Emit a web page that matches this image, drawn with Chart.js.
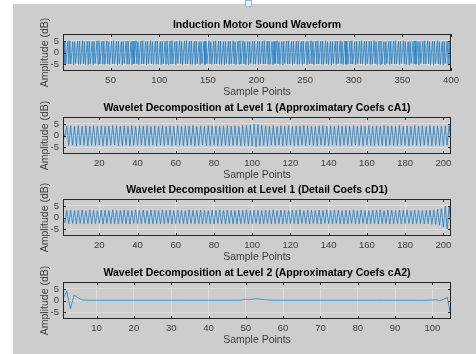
<!DOCTYPE html>
<html>
<head>
<meta charset="utf-8">
<script src="https://cdn.jsdelivr.net/npm/chart.js@4.4.1/dist/chart.umd.min.js"></script>
<style>
  html, body { margin: 0; padding: 0; background: #fff; width: 476px; height: 354px; overflow: hidden; }
  #fig { position: absolute; left: 13px; top: 4px; width: 463px; height: 350px; background: #cdcdcd; overflow: hidden; }
  #fig canvas { position: absolute; left: 0; }
  #dock { position: absolute; left: 245px; top: 0; width: 5px; height: 5px; border: 1px solid #8fb8e0; background: #e8f1fa; }
</style>
</head>
<body>
<div id="fig">
  <canvas id="wave" width="463" height="97" style="top:0px"></canvas>
  <canvas id="approx1" width="463" height="97" style="top:83px"></canvas>
  <canvas id="detail1" width="463" height="97" style="top:165px"></canvas>
  <canvas id="approx2" width="463" height="97" style="top:248px"></canvas>
</div>
<div id="dock"></div>
<script>
// values
var motorSound = [
    4.8, -5.2, 4.9, -4.9, 0.1, 5.0, -5.0, 5.1, -5.0, -0.1, 4.7, -5.3, 4.8, -4.8, 0.3, 4.9, -5.1, 5.0, -5.1, -0.3,
    5.1, -4.9, 4.7, -5.2, 0.2, 4.8, -5.2, 4.9, -4.9, 0.1, 4.7, -5.3, 4.8, -4.8, 0.3, 5.0, -5.0, 5.1, -5.0, -0.1,
    4.9, -5.1, 5.0, -5.1, -0.3, 5.1, -4.9, 4.7, -5.2, 0.2, 5.0, -5.0, 5.1, -5.0, -0.1, 4.8, -5.2, 4.9, -4.9, 0.1,
    4.7, -5.3, 4.8, -4.8, 0.3, 4.9, -5.1, 5.0, -5.1, -0.3, 4.8, -5.2, 4.9, -4.9, 0.1, 5.1, -4.9, 4.7, -5.2, 0.2,
    5.0, -5.0, 5.1, -5.0, -0.1, 4.7, -5.3, 4.8, -4.8, 0.3, 5.1, -4.9, 4.7, -5.2, 0.2, 4.9, -5.1, 5.0, -5.1, -0.3,
    4.8, -5.2, 4.9, -4.9, 0.1, 4.9, -5.1, 5.0, -5.1, -0.3, 5.0, -5.0, 5.1, -5.0, -0.1, 4.7, -5.3, 4.8, -4.8, 0.3,
    5.1, -4.9, 4.7, -5.2, 0.2, 5.0, -5.0, 5.1, -5.0, -0.1, 4.9, -5.1, 5.0, -5.1, -0.3, 4.8, -5.2, 4.9, -4.9, 0.1,
    4.7, -5.3, 4.8, -4.8, 0.3, 4.8, -5.2, 4.9, -4.9, 0.1, 5.1, -4.9, 4.7, -5.2, 0.2, 5.0, -5.0, 5.1, -5.0, -0.1,
    4.9, -5.1, 5.0, -5.1, -0.3, 4.7, -5.3, 4.8, -4.8, 0.3, 4.8, -5.2, 4.9, -4.9, 0.1, 5.1, -4.9, 4.7, -5.2, 0.2,
    5.0, -5.0, 5.1, -5.0, -0.1, 5.1, -4.9, 4.7, -5.2, 0.2, 4.7, -5.3, 4.8, -4.8, 0.3, 4.9, -5.1, 5.0, -5.1, -0.3,
    4.8, -5.2, 4.9, -4.9, 0.1, 5.0, -5.0, 5.1, -5.0, -0.1, 4.9, -5.1, 5.0, -5.1, -0.3, 4.7, -5.3, 4.8, -4.8, 0.3,
    5.1, -4.9, 4.7, -5.2, 0.2, 4.7, -5.3, 4.8, -4.8, 0.3, 5.0, -5.0, 5.1, -5.0, -0.1, 4.8, -5.2, 4.9, -4.9, 0.1,
    4.9, -5.1, 5.0, -5.1, -0.3, 4.8, -5.2, 4.9, -4.9, 0.1, 4.7, -5.3, 4.8, -4.8, 0.3, 5.1, -4.9, 4.7, -5.2, 0.2,
    5.0, -5.0, 5.1, -5.0, -0.1, 4.9, -5.1, 5.0, -5.1, -0.3, 5.1, -4.9, 4.7, -5.2, 0.2, 4.7, -5.3, 4.8, -4.8, 0.3,
    4.8, -5.2, 4.9, -4.9, 0.1, 5.1, -4.9, 4.7, -5.2, 0.2, 4.9, -5.1, 5.0, -5.1, -0.3, 5.0, -5.0, 5.1, -5.0, -0.1,
    4.7, -5.3, 4.8, -4.8, 0.3, 5.0, -5.0, 5.1, -5.0, -0.1, 4.8, -5.2, 4.9, -4.9, 0.1, 4.9, -5.1, 5.0, -5.1, -0.3,
    5.1, -4.9, 4.7, -5.2, 0.2, 4.9, -5.1, 5.0, -5.1, -0.3, 4.7, -5.3, 4.8, -4.8, 0.3, 4.8, -5.2, 4.9, -4.9, 0.1,
    5.0, -5.0, 5.1, -5.0, -0.1, 4.8, -5.2, 4.9, -4.9, 0.1, 5.1, -4.9, 4.7, -5.2, 0.2, 4.7, -5.3, 4.8, -4.8, 0.3,
    4.9, -5.1, 5.0, -5.1, -0.3, 4.7, -5.3, 4.8, -4.8, 0.3, 5.0, -5.0, 5.1, -5.0, -0.1, 5.1, -4.9, 4.7, -5.2, 0.2,
    4.8, -5.2, 4.9, -4.9, 0.1, 5.1, -4.9, 4.7, -5.2, 0.2, 4.7, -5.3, 4.8, -4.8, 0.3, 4.9, -5.1, 5.0, -5.1, -0.8
];

var cA1 = [
    1.8, -0.8, 4.1, -4.3, 4.2, -4.2, 4.0, -4.4, 4.3, -4.1,
    4.1, -4.3, 4.2, -4.4, 4.0, -4.2, 4.3, -4.3, 4.1, -4.2,
    4.2, -4.4, 4.0, -4.3, 4.1, -4.2, 4.3, -4.1, 4.2, -4.4,
    4.0, -4.3, 4.2, -4.2, 4.1, -4.4, 4.3, -4.2, 4.0, -4.3,
    4.2, -4.1, 4.1, -4.4, 4.3, -4.3, 4.0, -4.2, 4.2, -4.4,
    4.1, -4.2, 4.3, -4.3, 4.0, -4.1, 4.2, -4.4, 4.1, -4.3,
    4.3, -4.2, 4.0, -4.4, 4.2, -4.3, 4.1, -4.2, 4.3, -4.4,
    4.0, -4.3, 4.2, -4.1, 4.1, -4.4, 4.3, -4.3, 4.2, -4.2,
    4.1, -4.4, 4.0, -4.3, 4.2, -4.2, 4.3, -4.4, 4.1, -4.3,
    4.2, -4.2, 4.0, -4.4, 4.3, -4.3, 4.4, -4.5, 4.6, -4.6,
    5.0, -4.8, 4.7, -4.5, 4.4, -4.3, 4.2, -4.4, 4.1, -4.2,
    4.3, -4.3, 4.0, -4.2, 4.2, -4.4, 4.1, -4.3, 4.3, -4.2,
    4.0, -4.4, 4.2, -4.3, 4.1, -4.2, 4.3, -4.4, 4.2, -4.1,
    4.1, -4.3, 4.0, -4.4, 4.2, -4.2, 4.3, -4.3, 4.1, -4.4,
    4.2, -4.2, 4.0, -4.3, 4.3, -4.4, 4.1, -4.2, 4.2, -4.3,
    4.0, -4.4, 4.3, -4.1, 4.1, -4.3, 4.2, -4.4, 4.0, -4.2,
    4.3, -4.3, 4.1, -4.4, 4.2, -4.2, 4.0, -4.3, 4.3, -4.4,
    4.1, -4.2, 4.2, -4.3, 4.0, -4.4, 4.3, -4.2, 4.1, -4.3,
    4.2, -4.4, 4.0, -4.2, 4.3, -4.3, 4.1, -4.4, 4.2, -4.2,
    4.0, -4.3, 4.3, -4.4, 4.1, -4.2, 4.2, -4.3, 4.1, -4.4,
    4.2, -4.2, 4.3, -3.5
];

var cD1 = [
    -0.5, -2.2, 3.1, -2.7, 3.2, -2.6, 3.0, -2.8, 3.1, -2.6,
    3.2, -2.7, 3.0, -2.6, 3.3, -2.8, 3.1, -2.7, 3.0, -2.6,
    3.2, -2.8, 3.1, -2.6, 3.0, -2.7, 3.3, -2.7, 3.1, -2.8,
    3.0, -2.6, 3.2, -2.7, 3.1, -2.8, 3.0, -2.6, 3.3, -2.7,
    3.1, -2.7, 3.2, -2.6, 3.0, -2.8, 3.2, -2.7, 3.1, -2.6,
    3.0, -2.8, 3.3, -2.7, 3.1, -2.6, 3.2, -2.8, 3.0, -2.7,
    3.2, -2.6, 3.1, -2.7, 3.0, -2.8, 3.3, -2.6, 3.1, -2.7,
    3.0, -2.7, 3.2, -2.8, 3.1, -2.6, 3.0, -2.7, 3.2, -2.8,
    3.1, -2.6, 3.3, -2.7, 3.0, -2.8, 3.2, -2.6, 3.1, -2.7,
    3.0, -2.8, 3.2, -2.7, 3.1, -2.6, 3.3, -2.8, 3.0, -2.7,
    3.2, -2.6, 3.1, -2.8, 3.0, -2.7, 3.2, -2.6, 3.1, -2.8,
    3.3, -2.7, 3.0, -2.6, 3.2, -2.8, 3.1, -2.7, 3.0, -2.6,
    3.2, -2.7, 3.1, -2.8, 3.3, -2.6, 3.0, -2.7, 3.2, -2.8,
    3.1, -2.6, 3.0, -2.7, 3.2, -2.8, 3.1, -2.6, 3.3, -2.7,
    3.0, -2.8, 3.2, -2.6, 3.1, -2.7, 3.0, -2.8, 3.2, -2.7,
    3.1, -2.6, 3.3, -2.8, 3.0, -2.7, 3.2, -2.6, 3.1, -2.8,
    3.0, -2.7, 3.2, -2.6, 3.1, -2.8, 3.3, -2.7, 3.0, -2.6,
    3.2, -2.8, 3.1, -2.7, 3.0, -2.6, 3.2, -2.8, 3.1, -2.7,
    3.3, -2.6, 3.0, -2.8, 3.2, -2.7, 3.1, -2.6, 3.0, -2.8,
    3.1, -2.7, 3.2, -2.9, 3.3, -3.0, 3.5, -3.4, 3.9, -4.2,
    5.0, -5.0, 4.8, -4.3
];

var cA2 = [
    0.7, 4.0, -3.5, 2.3, 1.2, 0.3, 0.1, 0.1, 0.1, 0.1,
    0.1, 0.1, 0.1, 0.1, 0.1, 0.1, 0.1, 0.1, 0.1, 0.1,
    0.1, 0.1, 0.1, 0.1, 0.1, 0.1, 0.1, 0.1, 0.1, 0.1,
    0.1, 0.1, 0.1, 0.1, 0.1, 0.1, 0.1, 0.1, 0.1, 0.1,
    0.1, 0.1, 0.1, 0.1, 0.1, 0.1, 0.1, 0.1, 0.2, 0.5,
    0.3, 0.6, 0.7, 0.5, 0.3, 0.2, 0.1, 0.1, 0.1, 0.1,
    0.1, 0.1, 0.1, 0.1, 0.1, 0.1, 0.1, 0.1, 0.1, 0.1,
    0.1, 0.1, 0.1, 0.1, 0.1, 0.1, 0.1, 0.1, 0.1, 0.1,
    0.1, 0.1, 0.1, 0.1, 0.1, 0.1, 0.1, 0.1, 0.1, 0.1,
    0.1, 0.1, 0.1, 0.1, 0.1, 0.1, 0.1, 0.1, 0.1, 0.2,
    0.3, -0.1, 0.5, 1.4, -6.8
];

var waveTicks = [50, 100, 150, 200, 250, 300, 350, 400];
var level1Ticks = [20, 40, 60, 80, 100, 120, 140, 160, 180, 200];
var level2Ticks = [10, 20, 30, 40, 50, 60, 70, 80, 90, 100];
var ampTicks = [-5, 0, 5];

var titles = [
    "Induction Motor Sound Waveform",
    "Wavelet Decomposition at Level 1 (Approximatary Coefs cA1)",
    "Wavelet Decomposition at Level 1 (Detail Coefs cD1)",
    "Wavelet Decomposition at Level 2 (Approximatary Coefs cA2)"
];

var lineColour = "#1a7fc9";
var axisColour = "#262626";
var gridColour = "#dcdcdc";

Chart.defaults.font.family = '"Liberation Sans", Arial, Helvetica, sans-serif';

// matlab style box with inward ticks
var frame = {
    id: "frame",
    afterDatasetsDraw: function (chart) {
        var ctx = chart.ctx, a = chart.chartArea, sx = chart.scales.x, sy = chart.scales.y;
        ctx.save();
        ctx.strokeStyle = axisColour;
        ctx.lineWidth = 1;
        ctx.beginPath();
        sx.ticks.forEach(function (t) {
            var px = Math.round(sx.getPixelForValue(t.value)) + 0.5;
            ctx.moveTo(px, a.bottom); ctx.lineTo(px, a.bottom - 3);
            ctx.moveTo(px, a.top); ctx.lineTo(px, a.top + 3);
        });
        sy.ticks.forEach(function (t) {
            var py = Math.round(sy.getPixelForValue(t.value)) + 0.5;
            ctx.moveTo(a.left, py); ctx.lineTo(a.left + 3, py);
            ctx.moveTo(a.right, py); ctx.lineTo(a.right - 3, py);
        });
        ctx.stroke();
        ctx.strokeRect(Math.round(a.left) + 0.5, Math.round(a.top) + 0.5,
            Math.round(a.right - a.left) - 1, Math.round(a.bottom - a.top) - 1);
        ctx.restore();
    }
};

function panel(id, title, values, xTicks) {
    var points = values.map(function (v, i) { return {x: i + 1, y: v}; });

    return new Chart(document.getElementById(id).getContext("2d"), {
        type: "line",
        data: {
            datasets: [{
                data: points,
                borderColor: lineColour,
                borderWidth: 0.8,
                pointRadius: 0,
                tension: 0,
                fill: false
            }]
        },
        options: {
            responsive: false,
            animation: false,
            devicePixelRatio: 1,
            layout: { padding: { top: 15, left: 0, right: 25, bottom: 0 } },
            plugins: {
                legend: { display: false },
                tooltip: { enabled: false },
                title: {
                    display: true,
                    text: title,
                    fullSize: false,
                    color: "#000",
                    font: { size: 10.5, weight: "bold", lineHeight: "13px" },
                    padding: { top: 0, bottom: 2 }
                }
            },
            scales: {
                x: {
                    type: "linear",
                    min: 1,
                    max: values.length,
                    afterBuildTicks: function (s) {
                        s.ticks = xTicks.map(function (v) { return {value: v}; });
                    },
                    afterFit: function (s) { s.height = 30; },
                    grid: { color: gridColour, drawTicks: false },
                    border: { display: false },
                    ticks: { padding: 4, color: "#3c3c3c", font: { size: 9.5 }, maxRotation: 0, autoSkip: false },
                    title: {
                        display: true,
                        text: "Sample Points",
                        color: "#3c3c3c",
                        font: { size: 10.5, lineHeight: "13px" },
                        padding: { top: 0, bottom: 2 }
                    }
                },
                y: {
                    min: -8,
                    max: 8,
                    afterBuildTicks: function (s) {
                        s.ticks = ampTicks.map(function (v) { return {value: v}; });
                    },
                    afterFit: function (s) { s.width = 50; },
                    grid: { color: gridColour, drawTicks: false },
                    border: { display: false },
                    ticks: { padding: 4, color: "#3c3c3c", font: { size: 9.5 } },
                    title: {
                        display: true,
                        text: "Amplitude (dB)",
                        color: "#3c3c3c",
                        font: { size: 10.5, lineHeight: "13px" },
                        padding: { top: 25.5, bottom: 0 }
                    }
                }
            }
        },
        plugins: [frame]
    });
}

panel("wave", titles[0], motorSound, waveTicks);
panel("approx1", titles[1], cA1, level1Ticks);
panel("detail1", titles[2], cD1, level1Ticks);
panel("approx2", titles[3], cA2, level2Ticks);
</script>
</body>
</html>
